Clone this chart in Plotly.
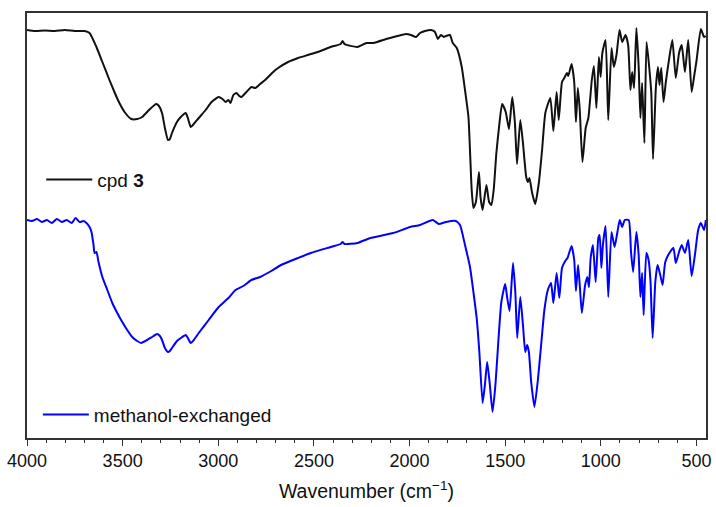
import plotly.graph_objects as go

# IR spectra (wavenumber in cm^-1, transmittance in arbitrary units, spectra offset vertically)
cpd3_wn = [4000, 3958, 3907, 3855, 3803, 3751, 3699, 3673, 3637, 3606, 3569, 3543, 3517, 3486,
           3455, 3424, 3398, 3362, 3325, 3310, 3294, 3279, 3263, 3253, 3242, 3216, 3196, 3170,
           3159, 3144, 3128, 3102, 3066, 3035, 2998, 2978, 2962, 2947, 2936, 2921, 2905, 2890,
           2879, 2853, 2827, 2807, 2781, 2755, 2713, 2687, 2635, 2583, 2532, 2480, 2412, 2360,
           2350, 2340, 2272, 2225, 2189, 2122, 2064, 2018, 1992, 1966, 1945, 1919, 1888, 1867,
           1852, 1836, 1821, 1810, 1789, 1774, 1753, 1727, 1710, 1692, 1684, 1675, 1666, 1653,
           1637, 1629, 1618, 1598, 1584, 1572, 1560, 1546, 1532, 1516, 1497, 1480, 1463, 1449,
           1438, 1421, 1407, 1390, 1381, 1373, 1359, 1343, 1324, 1307, 1290, 1264, 1248, 1231,
           1220, 1203, 1191, 1177, 1170, 1153, 1139, 1130, 1120, 1110, 1096, 1079, 1065, 1047,
           1036, 1023, 1010, 1001, 992, 975, 961, 944, 932, 918, 902, 888, 871, 857, 845, 836,
           826, 814, 802, 793, 784, 772, 761, 747, 736, 727, 712, 701, 693, 684, 672, 660, 646,
           626, 608, 591, 577, 560, 543, 525, 511, 499, 477, 460, 451]
cpd3_t = [102, 101.75, 101.9, 101.75, 102, 101.75, 101.75, 101.25, 97.75, 94, 89.5, 86.5, 83.75,
          81.25, 79.75, 79.75, 80.25, 82, 83.5, 83, 81.25, 77.5, 74.5, 74.75, 76.25, 79, 80.25,
          81.25, 80, 77.75, 78.5, 80, 82, 84, 85.25, 84.75, 84, 84.5, 83.75, 85.75, 86.25, 85.5,
          85.25, 86.5, 87.75, 87.5, 88.5, 89.5, 91.5, 92.5, 94, 95, 95.75, 96.5, 97.75, 98.5,
          99.25, 98.5, 97.75, 98.75, 98.75, 99.75, 100.5, 101, 100.75, 100.25, 101.25, 101.75,
          102, 101.5, 99.75, 100.75, 100.25, 100.5, 100.75, 98.75, 97.5, 92.75, 87, 80.25, 72,
          62, 57.5, 59, 66.5, 60.25, 57, 63.25, 59, 58.25, 62, 71.25, 77.75, 83.5, 81.5, 77.25,
          85.25, 78.75, 68.5, 79.5, 73.75, 65.25, 64, 65, 61.25, 58.5, 63.75, 72, 81.25, 85,
          76.75, 86.5, 79.5, 89, 90, 91.25, 90.5, 93.5, 89, 79, 87.5, 82, 69, 77.5, 80, 89.5,
          93, 82.5, 95.25, 90.25, 96.25, 99.5, 79.5, 97.5, 92.75, 95.75, 102, 99, 100.75, 98.25,
          87, 91.5, 87.5, 102.5, 92.75, 80, 88.75, 73.75, 99, 92.75, 86.25, 69.75, 87.75, 92.75,
          88.25, 92.5, 84, 89, 93.75, 99.5, 90, 96.25, 98.25, 91.5, 99.5, 86.5, 90.75, 94.5,
          102.25, 100.25, 100.5]

meoh_wn = [4000, 3974, 3948, 3922, 3896, 3870, 3844, 3818, 3792, 3766, 3746, 3725, 3704, 3689,
           3673, 3663, 3652, 3647, 3637, 3626, 3606, 3580, 3554, 3528, 3502, 3476, 3450, 3424,
           3403, 3372, 3346, 3320, 3305, 3294, 3279, 3263, 3253, 3242, 3216, 3196, 3170, 3159,
           3144, 3128, 3102, 3050, 2998, 2947, 2910, 2869, 2827, 2781, 2723, 2672, 2583, 2516,
           2412, 2360, 2350, 2340, 2272, 2205, 2085, 1997, 1945, 1878, 1847, 1810, 1758, 1736,
           1710, 1684, 1666, 1649, 1635, 1618, 1606, 1594, 1580, 1566, 1551, 1537, 1520, 1500,
           1490, 1477, 1459, 1447, 1437, 1421, 1407, 1395, 1385, 1376, 1364, 1347, 1329, 1312,
           1295, 1277, 1260, 1248, 1231, 1217, 1203, 1186, 1174, 1153, 1139, 1130, 1119, 1110,
           1099, 1082, 1070, 1062, 1053, 1041, 1027, 1013, 1006, 997, 989, 975, 961, 944, 928,
           914, 901, 888, 875, 854, 842, 831, 814, 802, 793, 784, 776, 762, 750, 740, 729, 715,
           703, 689, 677, 663, 638, 620, 608, 591, 577, 560, 543, 525, 508, 491, 477, 460, 451]
meoh_t = [54.5, 54.25, 54.75, 54, 54.5, 53.75, 54.75, 54, 54.5, 53.75, 55, 54, 54.25, 53.75,
          52.75, 51.5, 48.25, 46.25, 46.5, 44, 40.25, 37, 33.75, 31.25, 29, 27, 25.25, 24.25,
          23.75, 24.5, 25.25, 26, 25.5, 24.5, 22.5, 21.5, 21.75, 22.5, 24.25, 25, 25.75, 25,
          23.75, 24.5, 26.25, 29.5, 32.75, 35, 37, 38, 39.5, 40.25, 41.75, 43.25, 45, 46.25,
          47.75, 48.5, 49, 48.5, 48.75, 50, 51.25, 52.75, 53.25, 54.5, 53.5, 54, 54.25, 53.25,
          48.25, 42.75, 36.5, 30, 21.5, 8.75, 13.25, 19, 13.25, 6.5, 13.25, 23.25, 34, 38.5,
          35.25, 31.75, 43.75, 36.5, 25, 35.25, 28.25, 21.5, 23.25, 21.5, 14, 7.75, 14.5, 23.25,
          32, 37, 38.75, 33.75, 41.25, 35, 42.5, 44.25, 45, 48, 44.5, 36.75, 43.25, 38.25,
          31.25, 38.25, 40.25, 37.75, 45, 48.25, 39, 50, 50.75, 42.5, 48.25, 53, 35.25, 51.5,
          47.75, 51.25, 54.5, 52.75, 54.5, 54.5, 46.5, 41.5, 51.5, 45.75, 35.25, 41.25, 30.75,
          46.25, 44.5, 39, 25, 39, 43.25, 40.75, 38.25, 44, 46.5, 47.5, 43.75, 46.5, 48.25,
          46.25, 49.5, 40.5, 45.75, 52, 53.75, 52, 54.5]

major_ticks = [4000, 3500, 3000, 2500, 2000, 1500, 1000, 500]
tick_text = [str(v) for v in major_ticks]

font_family = "Arial, Liberation Sans, sans-serif"

fig = go.Figure()
fig.add_trace(go.Scatter(
    x=cpd3_wn, y=cpd3_t, mode="lines", name="cpd <b>3</b>",
    line=dict(color="#111111", width=2, shape="spline", smoothing=0.5),
    legend="legend",
))
fig.add_trace(go.Scatter(
    x=meoh_wn, y=meoh_t, mode="lines", name="methanol-exchanged",
    line=dict(color="#0000ff", width=2, shape="spline", smoothing=0.5),
    legend="legend2",
))

axis_line = dict(showline=True, linecolor="#333333", linewidth=1.5, mirror=True,
                 showgrid=False, zeroline=False)

fig.update_layout(
    width=716, height=507,
    margin=dict(l=27, r=5, t=13, b=69),
    paper_bgcolor="white", plot_bgcolor="white",
    font=dict(family=font_family, size=16, color="#111111"),
    xaxis=dict(
        range=[4000, 450], tickmode="array", tickvals=major_ticks, ticktext=tick_text,
        ticks="outside", ticklen=6, tickwidth=1.3, tickcolor="#333333",
        minor=dict(dtick=100, ticks="outside", ticklen=3, tickwidth=1.2, tickcolor="#333333"),
        tickfont=dict(size=18), ticklabelstandoff=0,
        title=dict(text="Wavenumber (cm<sup>−1</sup>)", font=dict(size=19.5), standoff=14),
        **axis_line,
    ),
    yaxis=dict(range=[0, 106.25], showticklabels=False, ticks="", **axis_line),
    legend=dict(x=0.021, y=0.608, xanchor="left", yanchor="middle",
                bgcolor="rgba(0,0,0,0)", font=dict(size=19), itemwidth=46),
    legend2=dict(x=0.016, y=0.055, xanchor="left", yanchor="middle",
                 bgcolor="rgba(0,0,0,0)", font=dict(size=19), itemwidth=46),
    showlegend=True,
)

fig.write_html("out.html")
